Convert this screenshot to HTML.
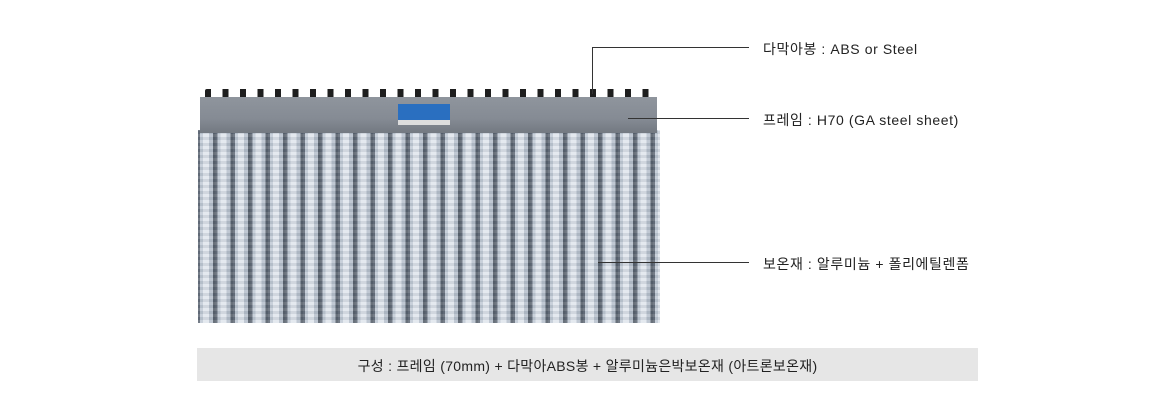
<!DOCTYPE html>
<html><head><meta charset="utf-8"><style>
body{margin:0;width:1170px;height:420px;background:#fff;position:relative;overflow:hidden;font-family:"Liberation Sans","Noto Sans CJK KR",sans-serif;}
.a{position:absolute}
.lbl{position:absolute;font-size:14px;color:#222;white-space:nowrap;letter-spacing:0.6px}
.ln{position:absolute;background:#333}
</style></head><body>
<!-- caps -->
<div class="a" style="left:205px;top:89px;width:452px;height:9px;background:repeating-linear-gradient(90deg,#1e1e1e 0 6px,transparent 6px 17.5px);border-radius:2px 2px 0 0"></div>
<!-- tubes -->
<div class="a" style="left:198px;top:130px;width:462px;height:193px;background:repeating-linear-gradient(90deg,#5c6572 0 2px,#bfc8d3 2px 5px,#dfe5ec 5px 11px,#b5bfcb 11px 15px,#4e5763 15px 17.5px)"></div>
<div class="a" style="left:198px;top:130px;width:462px;height:193px;background:repeating-linear-gradient(0deg,rgba(255,255,255,0.15) 0 3px,rgba(120,130,145,0.15) 3px 6px)"></div>
<!-- frame -->
<div class="a" style="left:200px;top:97px;width:457px;height:36px;background:linear-gradient(#8f959d,#858b94 60%,#737981);"></div>
<div class="a" style="left:398px;top:104px;width:52px;height:16px;background:#2a6fc0"></div>
<div class="a" style="left:398px;top:120px;width:52px;height:5px;background:#ddd"></div>
<!-- leaders -->
<div class="ln" style="left:592px;top:47px;width:1px;height:47px"></div>
<div class="ln" style="left:592px;top:47px;width:157px;height:1px"></div>
<div class="ln" style="left:628px;top:118px;width:121px;height:1px"></div>
<div class="ln" style="left:598px;top:262px;width:151px;height:1px"></div>
<div class="lbl" style="left:763px;top:39px">다막아봉 : ABS or Steel</div>
<div class="lbl" style="left:763px;top:110px">프레임 : H70 (GA steel sheet)</div>
<div class="lbl" style="left:763px;top:254px">보온재 : 알루미늄 + 폴리에틸렌폼</div>
<div class="a" style="left:197px;top:348px;width:781px;height:33px;background:#e6e6e6"></div>
<div class="lbl" style="left:197px;width:781px;top:356px;text-align:center;letter-spacing:0.3px">구성 : 프레임 (70mm) + 다막아ABS봉 + 알루미늄은박보온재 (아트론보온재)</div>
</body></html>
